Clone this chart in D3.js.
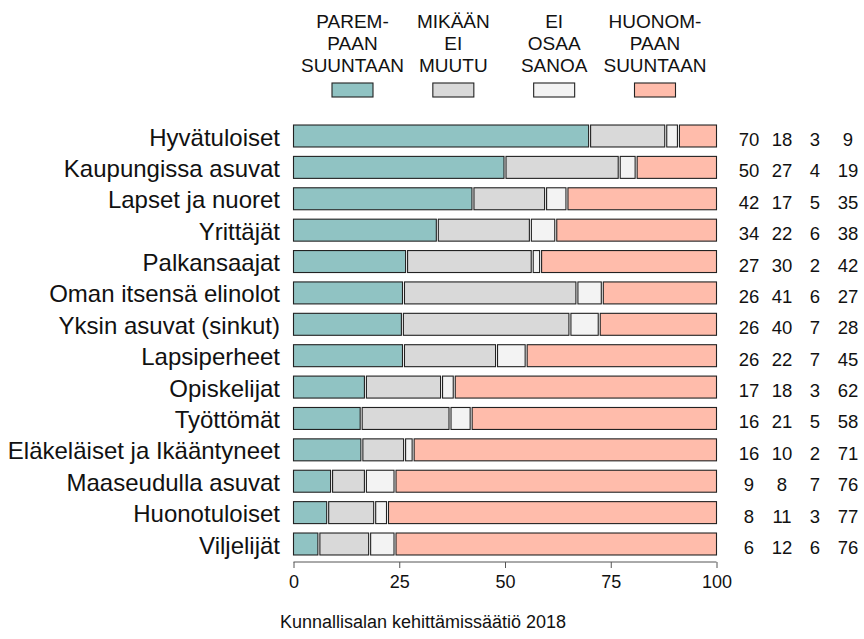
<!DOCTYPE html>
<html>
  <head>
    <meta charset="UTF-8" />
    <title>Suunta</title>
    <style>
      body { margin: 0; background: #fff; }
    </style>
  </head>
  <body>
    <script src="https://cdn.jsdelivr.net/npm/d3@7"></script>
    <script>
      // categories, top to bottom
      var groups = [
        "Hyvätuloiset", "Kaupungissa asuvat", "Lapset ja nuoret", "Yrittäjät",
        "Palkansaajat", "Oman itsensä elinolot", "Yksin asuvat (sinkut)",
        "Lapsiperheet", "Opiskelijat", "Työttömät", "Eläkeläiset ja Ikääntyneet",
        "Maaseudulla asuvat", "Huonotuloiset", "Viljelijät"
      ];

      // one array per answer, same order as groups
      var better  = [70, 50, 42, 34, 27, 26, 26, 26, 17, 16, 16, 9, 8, 6];
      var noChange = [18, 27, 17, 22, 30, 41, 40, 22, 18, 21, 10, 8, 11, 12];
      var dontKnow = [3, 4, 5, 6, 2, 6, 7, 7, 3, 5, 2, 7, 3, 6];
      var worse   = [9, 19, 35, 38, 42, 27, 28, 45, 62, 58, 71, 76, 77, 76];

      var seriesNames = [
        ["PAREM-", "PAAN", "SUUNTAAN"],
        ["MIKÄÄN", "EI", "MUUTU"],
        ["EI", "OSAA", "SANOA"],
        ["HUONOM-", "PAAN", "SUUNTAAN"]
      ];
      var colours = ["#90c3c3", "#d9d9d9", "#f3f3f3", "#ffbcab"];
      var xTicks = [0, 25, 50, 75, 100];
      var source = "Kunnallisalan kehittämissäätiö 2018";

      var series = [better, noChange, dontKnow, worse];

      var svg = d3.select("body").append("svg")
                  .attr("width", 864)
                  .attr("height", 639)
                  .style("font-family", "'Liberation Sans', Arial, Helvetica, sans-serif");

      var x = d3.scaleLinear().domain([0, 100]).range([293.5, 716.5]);
      var y = d3.scalePoint().domain(groups).range([136, 544]);
      var barH = y.step() * 0.7;

      // stack the rows, each row scaled to sum 100
      var rows = groups.map(function(g, i) {
        var vals = series.map(function(s) { return s[i]; });
        var total = d3.sum(vals);
        var acc = 0;
        return vals.map(function(v, k) {
          var seg = { g: g, k: k, v: v, x0: acc / total * 100 };
          acc += v;
          seg.x1 = acc / total * 100;
          return seg;
        });
      });

      var bars = svg.append("g");
      bars.selectAll("g")
          .data(rows)
          .enter()
          .append("g")
          .selectAll("rect")
          .data(function(d) { return d; })
          .enter()
          .append("rect")
          .attr("x", function(d) { return x(d.x0) + (d.k > 0 ? 1 : 0); })
          .attr("width", function(d) {
            var w = x(d.x1) - x(d.x0) - (d.k > 0 ? 1 : 0) - (d.k < 3 ? 1 : 0);
            return Math.max(w, 0.5);
          })
          .attr("y", function(d) { return y(d.g) - barH / 2; })
          .attr("height", barH)
          .style("fill", function(d) { return colours[d.k]; })
          .style("stroke", "#222")
          .style("stroke-width", 1.1);

      // category labels
      svg.append("g").selectAll("text")
          .data(groups)
          .enter()
          .append("text")
          .attr("x", 280)
          .attr("y", function(d) { return y(d) + 9.5; })
          .attr("text-anchor", "end")
          .attr("font-size", "24px")
          .attr("fill", "#111")
          .text(function(d) { return d; });

      // numbers on the right
      var numX = d3.scalePoint().domain([0, 1, 2, 3]).range([749, 848]);
      var numG = svg.append("g");
      series.forEach(function(s, k) {
        numG.selectAll("text.c" + k)
            .data(s)
            .enter()
            .append("text")
            .attr("class", "c" + k)
            .attr("x", numX(k))
            .attr("y", function(d, i) { return y(groups[i]) + 10; })
            .attr("text-anchor", "middle")
            .attr("font-size", "18.5px")
            .attr("fill", "#111")
            .text(function(d) { return d; });
      });

      // x axis
      var axis = svg.append("g")
          .attr("transform", "translate(0,562)")
          .call(d3.axisBottom(x).tickValues(xTicks).tickSize(6).tickSizeOuter(0));
      axis.select(".domain").attr("stroke", "#555").attr("d", "M" + x(0) + ",0H" + x(100));
      axis.selectAll(".tick line").attr("stroke", "#555");
      axis.selectAll(".tick text")
          .attr("y", 13)
          .attr("font-size", "18px")
          .attr("font-family", "'Liberation Sans', Arial, sans-serif")
          .attr("fill", "#111");

      // legend
      var legX = d3.scalePoint().domain([0, 1, 2, 3]).range([352.5, 655]);
      var leg = svg.append("g").selectAll("g")
          .data(seriesNames)
          .enter()
          .append("g")
          .attr("transform", function(d, i) { return "translate(" + legX(i) + ",0)"; });
      leg.each(function(lines) {
        var t = d3.select(this);
        lines.forEach(function(l, j) {
          t.append("text")
           .attr("x", 0)
           .attr("y", 28 + j * 22)
           .attr("text-anchor", "middle")
           .attr("font-size", "19px")
           .attr("font-family", "'Liberation Sans Narrow', 'Arial Narrow', 'Liberation Sans', sans-serif")
           .attr("fill", "#111")
           .text(l);
        });
      });
      leg.append("rect")
         .attr("x", -20.5)
         .attr("y", 83)
         .attr("width", 41)
         .attr("height", 14)
         .style("fill", function(d, i) { return colours[i]; })
         .style("stroke", "#222")
         .style("stroke-width", 1.1);

      // source line
      svg.append("text")
         .attr("x", 423)
         .attr("y", 628)
         .attr("text-anchor", "middle")
         .attr("font-size", "18px")
         .attr("fill", "#111")
         .text(source);
    </script>
  </body>
</html>
